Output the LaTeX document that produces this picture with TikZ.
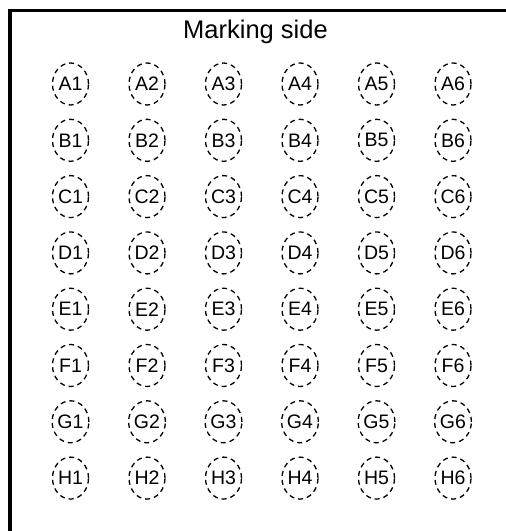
\documentclass[tikz,border=0pt]{standalone}
\usepackage{fontspec}
\setmainfont{Liberation Sans}
\usepackage{tikz}
\usetikzlibrary{shapes.geometric, positioning}

\begin{document}
\begin{tikzpicture}[
    x=1pt, y=-1pt,
    frame/.style={draw, line width=3.5pt},
    title/.style={anchor=base, font=\fontsize{25.5}{28}\selectfont},
    spot/.style={ellipse, draw, line width=1.3pt, dash pattern=on 5pt off 4pt, minimum width=36pt, minimum height=42pt, inner sep=0pt, font=\fontsize{19.5}{22}\selectfont},
]
    \useasboundingbox (0,0) rectangle (506,531);

    % Frame (right and bottom edges fall outside the page)
    \draw[frame] (506,10.5) -- (10,10.5) -- (10,531);

    % Title
    \node[title] (marking) at (255.5,38) {Marking side};

    % Grid of spots
    \foreach \row [count=\r from 0] in {A,B,C,D,E,F,G,H} {
        \foreach \col in {1,...,6} {
            \node[spot] (\row\col) at ({70.5+76.5*(\col-1)},{84+56.3*\r}) {\row\col};
        }
    }
\end{tikzpicture}
\end{document}
